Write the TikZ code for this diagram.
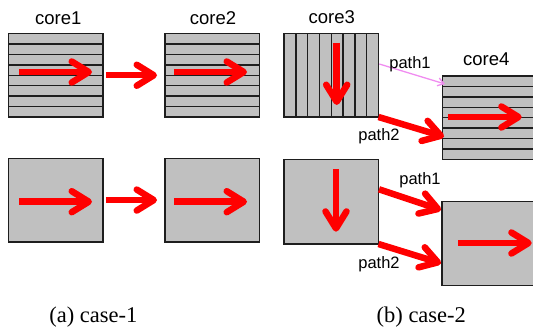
\documentclass[tikz,border=0pt]{standalone}
\usepackage{fontspec}
\setmainfont{Liberation Serif}
\newfontfamily\labelfont{Liberation Sans}
\usetikzlibrary{arrows.meta,calc}

\definecolor{boxgray}{RGB}{192,192,192}
\definecolor{boxline}{RGB}{30,30,30}
\definecolor{pathpink}{RGB}{240,140,240}

\tikzset{
  corebox/.style={draw=boxline, line width=1.5pt, fill=boxgray,
    minimum width=94.5pt, minimum height=83.5pt,
    inner sep=0pt, outer sep=0pt, anchor=north west},
  stripe/.style={draw=boxline, line width=1.4pt},
  flow/.style={draw=red, line width=6.5pt,
    -{Straight Barb[length=17pt,width=21pt,round]}},
  weakflow/.style={draw=pathpink, line width=1.3pt,
    -{Straight Barb[length=6pt,width=8pt]}},
  corelabel/.style={font=\labelfont\fontsize{18.5}{20}\selectfont,
    anchor=base, inner sep=0pt},
  pathlabel/.style={font=\labelfont\fontsize{16.5}{18}\selectfont,
    anchor=base, inner sep=0pt},
  caption/.style={font=\fontsize{22.5}{24}\selectfont,
    anchor=base, inner sep=0pt},
}

% eight horizontal / vertical strips inside a core box
\newcommand\hstrips[1]{%
  \foreach \k in {1,...,7}{%
    \draw[stripe] ($(#1.north west)!\k/8!(#1.south west)$) --
                  ($(#1.north east)!\k/8!(#1.south east)$);}}
\newcommand\vstrips[1]{%
  \foreach \k in {1,...,7}{%
    \draw[stripe] ($(#1.north west)!\k/8!(#1.north east)$) --
                  ($(#1.south west)!\k/8!(#1.south east)$);}}

\begin{document}
\begin{tikzpicture}[x=1pt,y=-1pt]
  \useasboundingbox (0,0) rectangle (533,329);

  % ---------- (a) case-1 ----------
  \node[corebox] (c1)  at (8.3,33.5)  {};
  \node[corebox] (c2)  at (165,33.5)  {};
  \node[corebox] (c1b) at (8.3,158.3) {};
  \node[corebox] (c2b) at (165,158.3) {};
  \hstrips{c1}
  \hstrips{c2}

  \node[corelabel] (l1) at (58.3,25) {core1};
  \node[corelabel] (l2) at (213,25)  {core2};

  \coordinate (a1s) at (19,72);   \coordinate (a1e) at (92,72);
  \coordinate (a2s) at (174,72);  \coordinate (a2e) at (247,72);
  \coordinate (b1s) at (19,201.7);  \coordinate (b1e) at (92,201.7);
  \coordinate (b2s) at (174,201.7); \coordinate (b2e) at (247,201.7);

  \draw[flow] (a1s) -- (a1e);
  \draw[flow] (a2s) -- (a2e);
  \draw[flow] (b1s) -- (b1e);
  \draw[flow] (b2s) -- (b2e);
  \draw[flow, shorten <=3.5pt, shorten >=8pt] (c1) -- (c2);
  \draw[flow, shorten <=3.5pt, shorten >=8pt] (c1b) -- (c2b);

  \node[caption] (capa) at (93.3,322.7) {(a) case-1};

  % ---------- (b) case-2 ----------
  \node[corebox] (c3)  at (284,33.5)  {};
  \node[corebox] (c4)  at (442.5,76)  {};
  \node[corebox, minimum height=84.5pt] (c3b) at (284,159.5) {};
  \node[corebox, minimum height=84pt] (c4b) at (442,201.5) {};
  \vstrips{c3}
  \hstrips{c4}

  \node[corelabel] (l3) at (331.7,24) {core3};
  \node[corelabel] (l4) at (486.3,66) {core4};

  \coordinate (a3s) at (336.7,43);  \coordinate (a3e) at (336.7,105);
  \coordinate (a4s) at (448,117);   \coordinate (a4e) at (521.7,117);
  \coordinate (b3s) at (336,169);   \coordinate (b3e) at (336,231.7);
  \coordinate (b4s) at (458,243);   \coordinate (b4e) at (531.7,243);
  \draw[flow] (a3s) -- (a3e);
  \draw[flow] (a4s) -- (a4e);
  \draw[flow] (b3s) -- (b3e);
  \draw[flow] (b4s) -- (b4e);

  % two routes from core3 to core4
  \coordinate (p1s)  at (379.3,64);    \coordinate (p1e)  at (445,84);
  \coordinate (p2e)  at (444,136.7);
  \coordinate (q1s)  at (379,189.3);   \coordinate (q1e)  at (441,210);
  \coordinate (q2e)  at (441,263.3);
  \draw[weakflow] (p1s) -- (p1e);
  \draw[flow] (c3.south east) -- (p2e);
  \draw[flow] (q1s) -- (q1e);
  \draw[flow] (c3b.south east) -- (q2e);

  \node[pathlabel] (t1)  at (410,68.3)  {path1};
  \node[pathlabel] (t2)  at (379,140)   {path2};
  \node[pathlabel] (t1b) at (420,184.3) {path1};
  \node[pathlabel] (t2b) at (379,268)   {path2};

  \node[caption] (capb) at (421.3,322.7) {(b) case-2};
\end{tikzpicture}
\end{document}
